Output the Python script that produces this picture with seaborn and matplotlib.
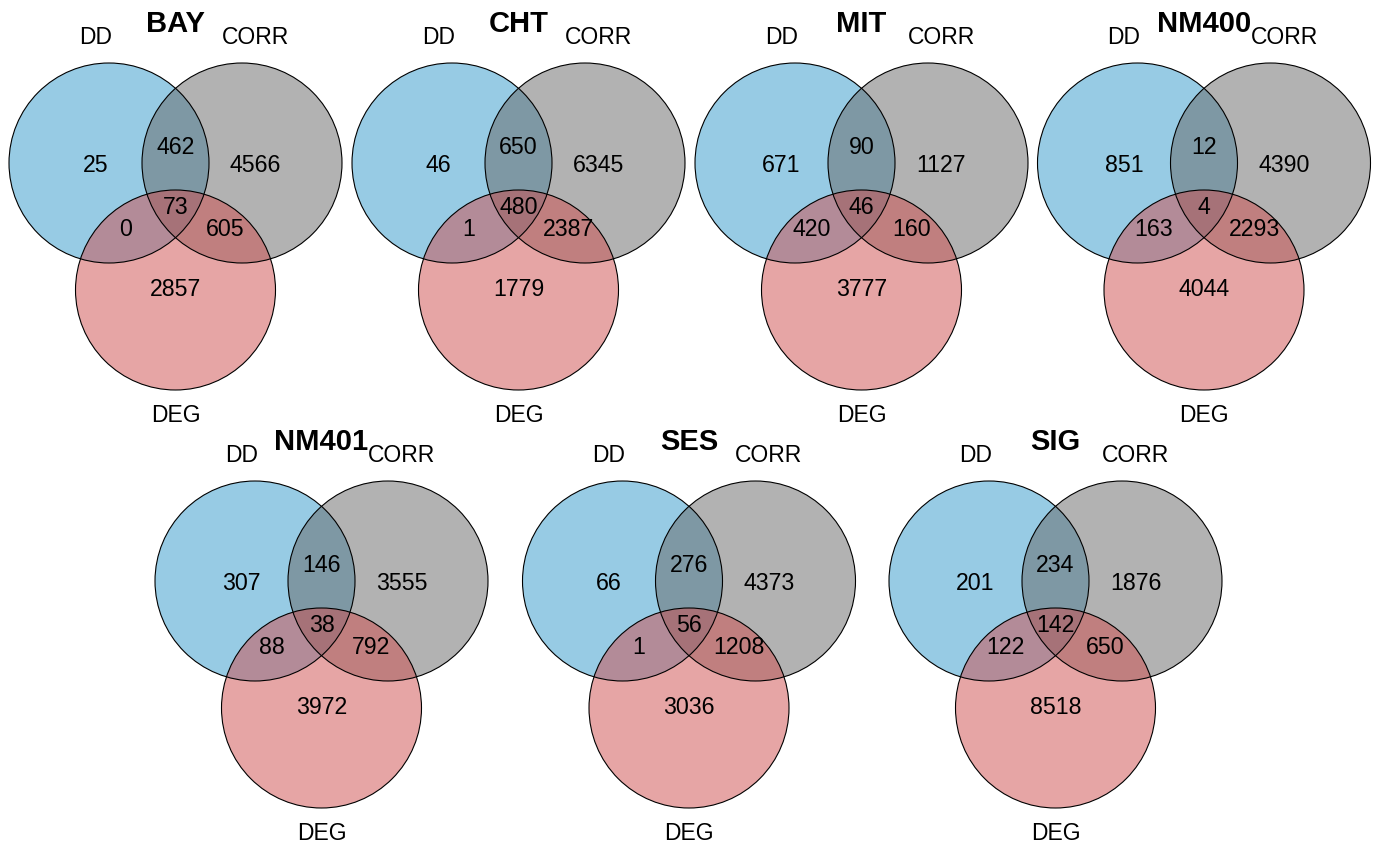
import matplotlib
matplotlib.use("Agg")
import matplotlib.pyplot as plt
from matplotlib.patches import Circle
import seaborn as sns

# Venn region counts per sample, in the order:
# DD only, DD&CORR, CORR only, DD&DEG, DD&CORR&DEG, CORR&DEG, DEG only
samples = ["BAY", "CHT", "MIT", "NM400", "NM401", "SES", "SIG"]
bay = [25, 462, 4566, 0, 73, 605, 2857]
cht = [46, 650, 6345, 1, 480, 2387, 1779]
mit = [671, 90, 1127, 420, 46, 160, 3777]
nm400 = [851, 12, 4390, 163, 4, 2293, 4044]
nm401 = [307, 146, 3555, 88, 38, 792, 3972]
ses = [66, 276, 4373, 1, 56, 1208, 3036]
sig = [201, 234, 1876, 122, 142, 650, 8518]
counts = [bay, cht, mit, nm400, nm401, ses, sig]

set_names = ["DD", "CORR", "DEG"]

sns.set_theme(style="white")
plt.rcParams["font.family"] = ["Liberation Sans", "DejaVu Sans"]

fill_colors = sns.color_palette(["#3098CA", "#666666", "#CF4D4D"])

W, H = 1378, 847
fig = plt.figure(figsize=(W / 100, H / 100), dpi=100)
ax = fig.add_axes([0, 0, 1, 1])
ax.set_xlim(0, W)
ax.set_ylim(H, 0)
ax.axis("off")

# panel anchors (centre x, vertical shift) in figure pixels
anchors = [(175.5, 0), (518.5, 0), (861.5, 0), (1204, 0),
           (321.5, 418), (689, 418), (1055.5, 418)]

R = 100
DX = 66.5
# circle centres relative to panel anchor
circle_offsets = [(-DX, 163), (DX, 163), (0, 290)]
# region label positions relative to panel anchor
region_offsets = [(-80, 166), (0, 148), (80, 166),
                  (-50, 229), (0, 208), (50, 229), (0, 290)]
# set label positions relative to panel anchor
name_offsets = [(-80, 38), (80, 38), (0, 416)]

for name, vals, (cx, oy) in zip(samples, counts, anchors):
    for (dx, dy), col in zip(circle_offsets, fill_colors):
        ax.add_patch(Circle((cx + dx, oy + dy), R, facecolor=col,
                            alpha=0.5, edgecolor="none", zorder=1))
    for dx, dy in circle_offsets:
        ax.add_patch(Circle((cx + dx, oy + dy), R, facecolor="none",
                            edgecolor="black", linewidth=0.8, zorder=2))
    for v, (dx, dy) in zip(vals, region_offsets):
        ax.text(cx + dx, oy + dy, str(v), ha="center", va="center",
                fontsize=16.7, color="black", zorder=3)
    for lab, (dx, dy) in zip(set_names, name_offsets):
        ax.text(cx + dx, oy + dy, lab, ha="center", va="center",
                fontsize=16.5, color="black", zorder=3)
    ax.text(cx, oy + 24, name, ha="center", va="center",
            fontsize=21, fontweight="bold", color="black", zorder=4)

fig.savefig("out.png", dpi=100, facecolor="white")
